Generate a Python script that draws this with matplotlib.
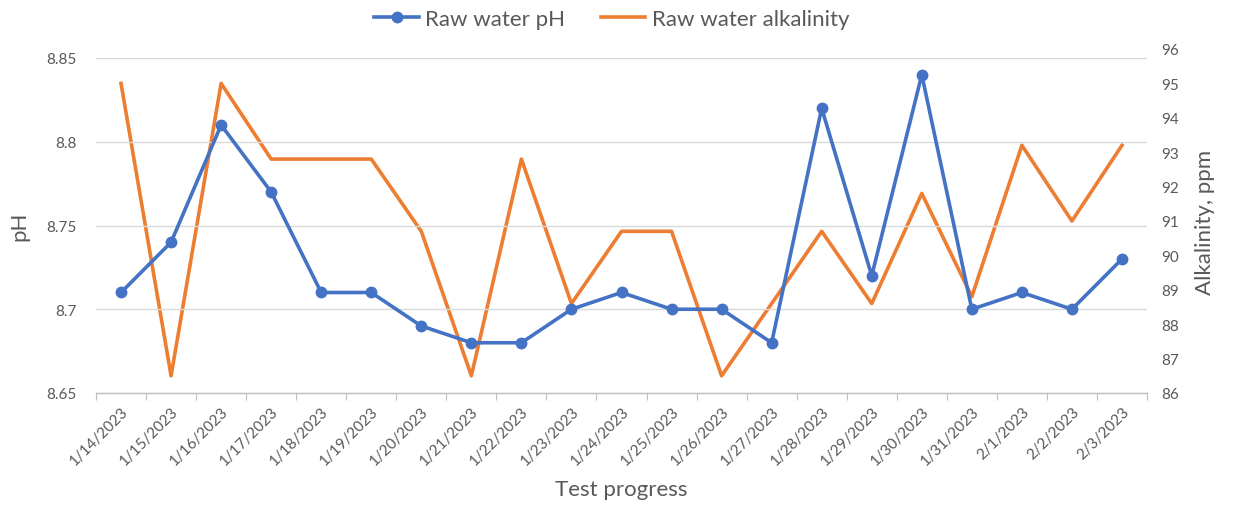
import matplotlib
matplotlib.use("Agg")
import matplotlib.pyplot as plt
import numpy as np

dates = ["1/14/2023", "1/15/2023", "1/16/2023", "1/17/2023", "1/18/2023", "1/19/2023",
         "1/20/2023", "1/21/2023", "1/22/2023", "1/23/2023", "1/24/2023", "1/25/2023",
         "1/26/2023", "1/27/2023", "1/28/2023", "1/29/2023", "1/30/2023", "1/31/2023",
         "2/1/2023", "2/2/2023", "2/3/2023"]
ph = [8.71, 8.74, 8.81, 8.77, 8.71, 8.71, 8.69, 8.68, 8.68, 8.70, 8.71, 8.70,
      8.70, 8.68, 8.82, 8.72, 8.84, 8.70, 8.71, 8.70, 8.73]
alkalinity = [95.0, 86.5, 95.0, 92.8, 92.8, 92.8, 90.7, 86.5, 92.8, 88.6, 90.7, 90.7,
              86.5, 88.6, 90.7, 88.6, 91.8, 88.8, 93.2, 91.0, 93.2]
ph_ticks = [8.65, 8.7, 8.75, 8.8, 8.85]
alk_ticks = list(range(86, 97))

plt.rcParams['font.family'] = ['Lato', 'DejaVu Sans']
GRAY = '#595959'
BLUE = '#4472C4'
ORANGE = '#ED7D31'

W, H = 1233, 506
fig = plt.figure(figsize=(W / 100, H / 100), dpi=100)

left, right = 96, 1147
top_l, bottom = 59, 394
top_r = 50
ax = fig.add_axes([left / W, 1 - bottom / H, (right - left) / W, (bottom - top_l) / H])
ax2 = fig.add_axes([left / W, 1 - bottom / H, (right - left) / W, (bottom - top_r) / H])

x = np.arange(len(dates))

# pH axis
ax.set_xlim(-0.5, len(dates) - 0.5)
ax.set_ylim(8.65, 8.85)
ax.set_yticks(ph_ticks)
ax.set_yticklabels([f"{v:g}" for v in ph_ticks])
ax.grid(axis='y', color='#D9D9D9', lw=1)
ax.set_axisbelow(True)
for s in ['top', 'right', 'left']:
    ax.spines[s].set_visible(False)
ax.spines['bottom'].set_color('#BFBFBF')
ax.spines['bottom'].set_linewidth(1)
ax.tick_params(axis='y', length=0, labelsize=11, colors=GRAY, pad=14)
ax.set_xticks(np.arange(-0.5, len(dates) + 0.5, 1), minor=False)
ax.set_xticklabels([])
ax.tick_params(axis='x', which='major', length=5, color='#BFBFBF', direction='out')
ax.set_xticks(x, minor=True)
ax.set_xticklabels(dates, minor=True, rotation=45, ha='right', rotation_mode='anchor')
ax.tick_params(axis='x', which='minor', length=0, labelsize=11, colors=GRAY, pad=8)
ax.set_ylabel('pH', fontsize=16, color=GRAY, labelpad=12)
ax.set_xlabel('Test progress', fontsize=16, color=GRAY, labelpad=8)

# Alkalinity axis
ax2.set_xlim(-0.5, len(dates) - 0.5)
ax2.set_ylim(86, 96)
ax2.set_yticks(alk_ticks)
ax2.yaxis.tick_right()
ax2.yaxis.set_label_position('right')
ax2.set_xticks([])
for s in ax2.spines.values():
    s.set_visible(False)
ax2.tick_params(axis='y', length=0, labelsize=11, colors=GRAY, pad=10)
ax2.set_ylabel('Alkalinity, ppm', fontsize=16, color=GRAY, labelpad=12)

l2, = ax2.plot(x, alkalinity, color=ORANGE, lw=2.6, zorder=2, label='Raw water alkalinity')
l1, = ax.plot(x, ph, color=BLUE, lw=2.6, marker='o', ms=7.5, zorder=3, label='Raw water pH')

ax.set_zorder(2)
ax.patch.set_visible(False)
ax2.set_zorder(1)

fig.legend([l1, l2], ['Raw water pH', 'Raw water alkalinity'], loc='center',
           bbox_to_anchor=(612 / W, 1 - 20 / H), ncol=2, frameon=False,
           fontsize=16, labelcolor=GRAY, handlelength=2.0, columnspacing=1.6,
           handletextpad=0.3)

fig.savefig('out.png', dpi=100)
